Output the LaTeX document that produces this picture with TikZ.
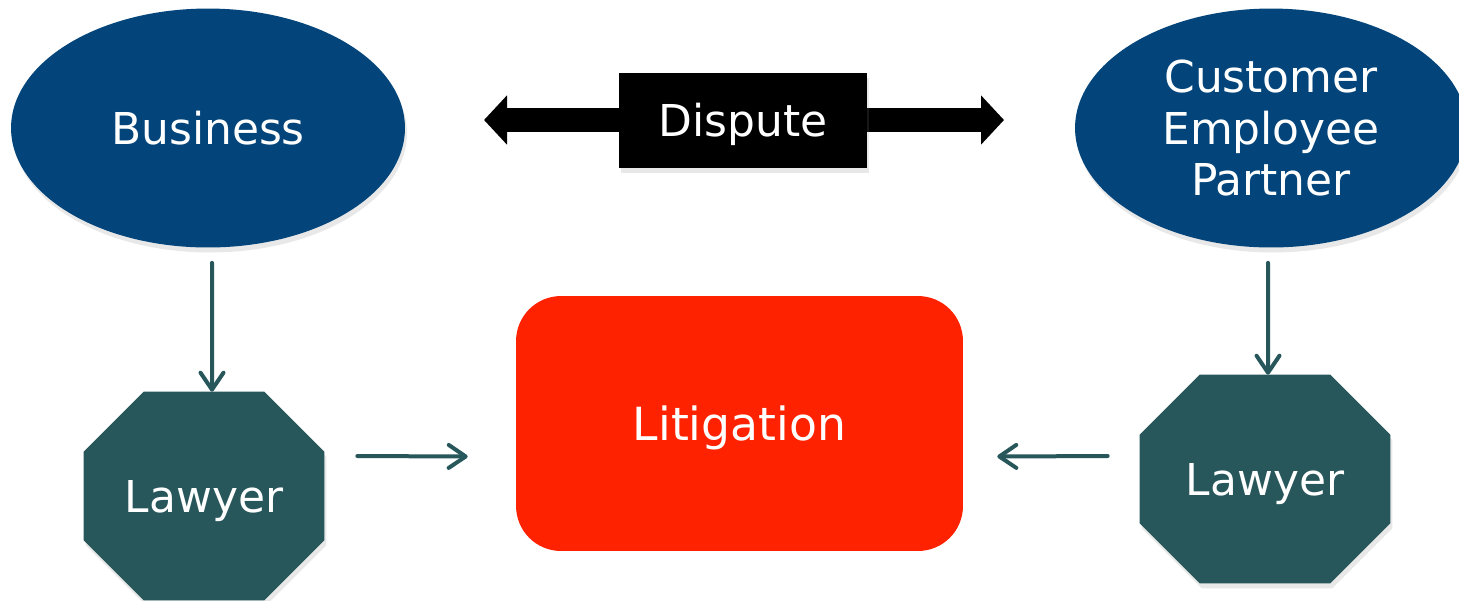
\documentclass[tikz,border=0pt]{standalone}
\usepackage{fontspec}
\setmainfont{DejaVu Sans}
\usetikzlibrary{shapes.geometric,arrows.meta,calc,shadows}
\definecolor{bizblue}{HTML}{03457A}
\definecolor{lawteal}{HTML}{27575B}
\definecolor{litred}{HTML}{FF2200}
\tikzset{
  x=0.02cm, y=-0.02cm,
  txt/.style={text=white, font=\fontsize{25}{29.5}\selectfont, align=center},
  party/.style={ellipse, fill=bizblue, txt, inner sep=0pt,
    drop shadow={opacity=0.18, shadow xshift=0.04cm, shadow yshift=-0.1cm}},
  disputebox/.style={fill=black, txt, text depth=0pt, inner sep=0pt, minimum width=4.98cm, minimum height=1.9cm,
    drop shadow={opacity=0.18, shadow xshift=0.04cm, shadow yshift=-0.1cm}},
  disparrow/.style={line width=0.48cm, black, -{Triangle[length=0.46cm, width=0.96cm]}},
  lawbox/.style={txt, inner sep=0pt, minimum width=4.8cm, minimum height=4.16cm},
  octfill/.style={fill=lawteal, drop shadow={opacity=0.18, shadow xshift=0.04cm, shadow yshift=-0.1cm}},
  conn/.style={lawteal, line width=0.08cm, line cap=round,
    -{Straight Barb[length=0.34cm, width=0.46cm, round]}},
  litbox/.style={rectangle, rounded corners=0.9cm, fill=litred, txt, text depth=0pt,
    minimum width=8.94cm, minimum height=5.1cm}
}
\begin{document}
\begin{tikzpicture}
\clip (0,0) rectangle (1459,600);
\fill[white] (0,0) rectangle (1459,600);

% parties
\node[party, minimum width=7.88cm, minimum height=4.78cm] (biz) at (208,128) {Business};
\node[party, minimum width=7.84cm, minimum height=4.78cm] (cust) at (1271,128) {Customer\\Employee\\Partner};

% dispute
\coordinate (dl) at (484,120);
\coordinate (dr) at (1004,120);
\draw[disparrow] (743,120) -- (dl);
\draw[disparrow] (743,120) -- (dr);
\node[disputebox] (disp) at (743,120) {Dispute};

% lawyers
\node[lawbox] (lawL) at (204,496) {};
\node[lawbox, minimum width=5cm] (lawR) at (1265,479) {};
\foreach \n in {lawL,lawR}{
  \fill[octfill]
    ($(\n.north west)+(1.2cm,0)$) -- ($(\n.north east)+(-1.2cm,0)$) --
    ($(\n.north east)+(0,-1.2cm)$) -- ($(\n.south east)+(0,1.2cm)$) --
    ($(\n.south east)+(-1.2cm,0)$) -- ($(\n.south west)+(1.2cm,0)$) --
    ($(\n.south west)+(0,1.2cm)$) -- ($(\n.north west)+(0,-1.2cm)$) -- cycle;
}
\node[txt, text depth=0pt] (lawLt) at (lawL) {Lawyer};
\node[txt, text depth=0pt] (lawRt) at (lawR) {Lawyer};

% litigation
\node[litbox, font=\fontsize{26}{30}\selectfont] (lit) at (739.5,423.5) {Litigation};

% connectors
\draw[conn] ([shift={(4,15)}]biz.south) -- ([xshift=0.16cm]lawL.north);
\draw[conn] ([shift={(-3,15)}]cust.south) -- ([xshift=0.06cm]lawR.north);
\draw[conn] ([shift={(33,-40)}]lawL.east) -- ([shift={(-48,33)}]lit.west);
\draw[conn] ([shift={(-32,-23)}]lawR.west) -- ([shift={(34,33)}]lit.east);
\end{tikzpicture}
\end{document}
